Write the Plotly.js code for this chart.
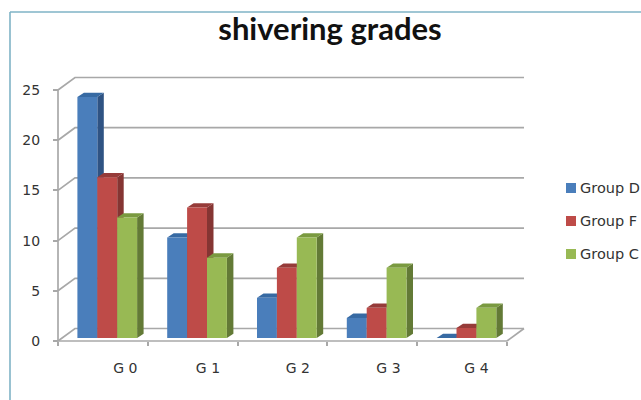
<!DOCTYPE html>
<html>
<head>
<meta charset="utf-8">
<script src="https://cdn.plot.ly/plotly-3.0.1.min.js"></script>
<style>html,body{margin:0;padding:0;background:#fff;overflow:hidden}</style>
</head>
<body>
<div id="chart" style="width:641px;height:400px"></div>
<script>
const categories = ["G 0", "G 1", "G 2", "G 3", "G 4"];
const seriesNames = ["Group D", "Group F", "Group C"];
const groupD = [24, 10, 4, 2, 0];
const groupF = [16, 13, 7, 3, 1];
const groupC = [12, 8, 10, 7, 3];
const yTicks = [0, 5, 10, 15, 20, 25];

const seriesValues = [groupD, groupF, groupC];
const faceColors = [
  {front: "#4A7EBB", side: "#2F5383", top: "#376AA3"},
  {front: "#BE4B48", side: "#853533", top: "#963B39"},
  {front: "#98B954", side: "#637A36", top: "#7A9A40"}
];

// Front plane of the box, in page pixels
const W = 641, H = 400;
const frontL = 58, frontR = 507, frontT = 90, frontB = 341;
const pxX = (frontR - frontL) / categories.length;
const pxY = (frontB - frontT) / 25;

// The plot rectangle is wider than the front plane so the box depth fits inside it
const padL = 10, padB = 6, padR = 20, padT = 16;
const L = frontL - padL, R = frontR + padR, T = frontT - padT, B = frontB + padB;
const xRange = [-padL / pxX, categories.length + padR / pxX];
const yRange = [-padB / pxY, 25 + padT / pxY];

// Depth of the box and of each column, in data units
const wallDx = 17 / pxX, wallDy = 12.5 / pxY;
const barDx = 6.5 / pxX, barDy = 4.3 / pxY;
const barW = 19.9 / pxX, barLead = 19.4 / pxX, barBase = 0.3;

// Horizontal nudge of the category captions relative to the slot centres
const captionShift = [0.25, 0.17, 0.17, 0.18, 0.16];

const gridColor = "#A8A8A8";
const textColor = "#333333";
const labelFont = "DejaVu Sans, sans-serif";

const line = (x, y) => ({
  type: "scatter", mode: "lines", x, y, hoverinfo: "skip",
  showlegend: false, line: {color: gridColor, width: 1.7}
});
const poly = (x, y, color) => ({
  type: "scatter", mode: "lines", x, y, fill: "toself", fillcolor: color,
  hoverinfo: "skip", showlegend: false, line: {width: 0, color: color}
});

const traces = [];

// Wall grid: each tick runs back along the side wall, then across the back wall
yTicks.forEach(v => {
  traces.push(line([0, wallDx, categories.length + wallDx], [v, v + wallDy, v + wallDy]));
});
// Right edge of the floor, front edge of the floor and the value axis line
traces.push(line([categories.length, categories.length + wallDx], [0, wallDy]));
traces.push(line([0, categories.length], [0, 0]));
traces.push(line([0, 0], [0, 25]));

// Columns, painted back to front inside each cluster
categories.forEach((_, c) => {
  seriesValues.forEach((vals, s) => {
    const x0 = c + barLead + s * barW, x1 = x0 + barW;
    const y0 = barBase, y1 = barBase + vals[c];
    const col = faceColors[s];
    traces.push(poly([x1, x1 + barDx, x1 + barDx, x1, x1], [y0, y0 + barDy, y1 + barDy, y1, y0], col.side));
    traces.push(poly([x0, x1, x1 + barDx, x0 + barDx, x0], [y1, y1, y1 + barDy, y1 + barDy, y1], col.top));
    traces.push(poly([x0, x1, x1, x0, x0], [y0, y0, y1, y1, y0], col.front));
  });
});

// Empty trace that keeps the caption axis alive
traces.push({type: "scatter", mode: "lines", x: [0], y: [0], xaxis: "x2", hoverinfo: "skip", showlegend: false, line: {width: 0}});

// Helpers for items placed in page pixels
const paperX = px => (px - L) / (R - L);
const paperY = py => (B - py) / (B - T);

const frameColor = "#7FB3C6";
const shapes = [
  {type: "line", xref: "paper", yref: "paper", x0: paperX(10), x1: paperX(10), y0: paperY(12), y1: paperY(400),
   line: {color: frameColor, width: 1.6}},
  {type: "line", xref: "paper", yref: "paper", x0: paperX(10), x1: paperX(641), y0: paperY(12), y1: paperY(12),
   line: {color: frameColor, width: 1.6}}
];
const annotations = [];

// Key on the right
seriesNames.forEach((name, i) => {
  const cy = 188 + i * 33;
  shapes.push({type: "rect", xref: "paper", yref: "paper", x0: paperX(566), x1: paperX(576), y0: paperY(cy - 5), y1: paperY(cy + 5),
    fillcolor: faceColors[i].front, line: {width: 0}});
  annotations.push({xref: "paper", yref: "paper", x: paperX(579), y: paperY(cy), xanchor: "left", yanchor: "middle", showarrow: false,
    text: name, font: {family: labelFont, size: 14.5, color: textColor}, borderpad: 0});
});

const layout = {
  width: W, height: H,
  margin: {l: L, r: W - R, t: T, b: H - B, pad: 0},
  paper_bgcolor: "#fff", plot_bgcolor: "rgba(0,0,0,0)",
  showlegend: false,
  title: {text: "<b>shivering grades</b>", x: 330 / W, xanchor: "center", y: 1 - 29 / H, yanchor: "middle",
    font: {family: "Lato, sans-serif", size: 31, color: "#111"}},
  xaxis: {
    range: xRange, anchor: "free", position: paperY(frontB),
    tickmode: "array", tickvals: categories.map((_, i) => i).concat(categories.length), showticklabels: false,
    ticks: "outside", ticklen: 4, tickwidth: 1.7, tickcolor: gridColor,
    showgrid: false, zeroline: false, showline: false, fixedrange: true
  },
  xaxis2: {
    overlaying: "x", anchor: "free", position: paperY(frontB), side: "bottom", range: xRange,
    tickmode: "array", tickvals: categories.map((_, i) => i + 0.5 + captionShift[i]), ticktext: categories,
    ticks: "", ticklabelstandoff: 17, showgrid: false, zeroline: false, showline: false, fixedrange: true,
    tickfont: {family: labelFont, size: 14, color: textColor}
  },
  yaxis: {
    range: yRange, anchor: "free", position: paperX(frontL),
    tickmode: "array", tickvals: yTicks, ticktext: yTicks.map(String),
    ticks: "outside", ticklen: 5, tickwidth: 1.7, tickcolor: gridColor, ticklabelstandoff: 10,
    showgrid: false, zeroline: false, showline: false, fixedrange: true,
    tickfont: {family: labelFont, size: 14, color: textColor}
  },
  shapes, annotations
};

Plotly.newPlot("chart", traces, layout, {displayModeBar: false, responsive: false});
</script>
</body>
</html>
